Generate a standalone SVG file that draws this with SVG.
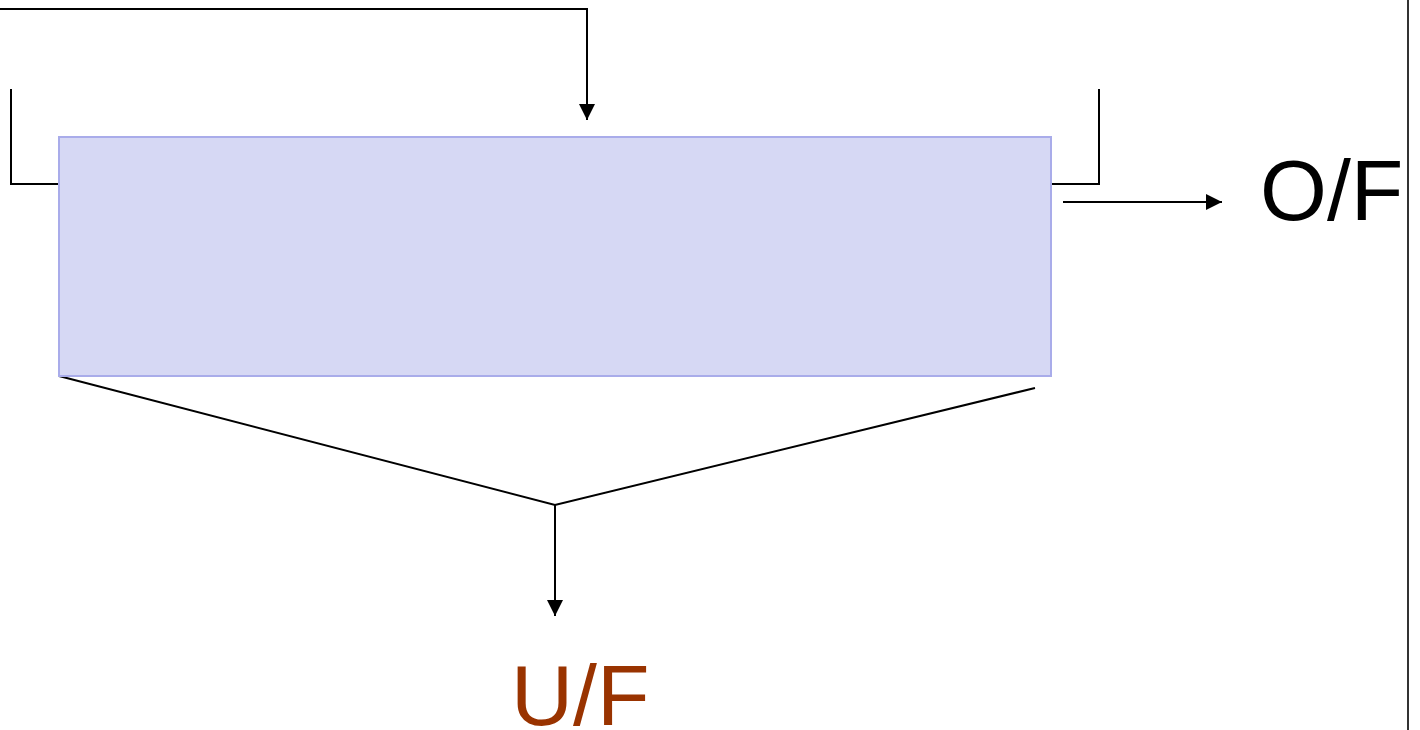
<svg xmlns="http://www.w3.org/2000/svg" width="1420" height="730" viewBox="0 0 1420 730">
  <style>
    .line { fill: none; stroke: #000; stroke-width: 2; }
    .label { font-family: "Liberation Sans", Arial, sans-serif; font-size: 86px; }
  </style>
  <defs>
    <marker id="arrow" viewBox="0 0 16 16" refX="16" refY="8" markerWidth="16" markerHeight="16" markerUnits="userSpaceOnUse" orient="auto">
      <path d="M0,0 L16,8 L0,16 Z" fill="#000"/>
    </marker>
  </defs>
  <rect width="1420" height="730" fill="#fff"/>

  <!-- separator on the right edge -->
  <line x1="1408" y1="0" x2="1408" y2="730" stroke="#333" stroke-width="2"/>

  <g id="connectors">
    <!-- feed entering from the top -->
    <polyline class="line" points="0,9 587,9 587,120" marker-end="url(#arrow)"/>
    <!-- side walls -->
    <polyline class="line" points="11,89 11,184 59,184"/>
    <polyline class="line" points="1051,184 1099,184 1099,89"/>
    <!-- overflow outlet -->
    <line class="line" x1="1063" y1="202" x2="1222" y2="202" marker-end="url(#arrow)"/>
    <!-- underflow cone and outlet -->
    <polyline class="line" points="59,376 555,505 1035,388"/>
    <line class="line" x1="555" y1="505" x2="555" y2="616" marker-end="url(#arrow)"/>
  </g>

  <g id="tank">
    <rect x="59" y="137" width="992" height="239" fill="#d6d8f4" stroke="#a9acea" stroke-width="2"/>
  </g>

  <g id="overflow">
    <text class="label" x="1260" y="220" fill="#000">O/F</text>
  </g>

  <g id="underflow">
    <text class="label" x="511" y="725" fill="#993300">U/F</text>
  </g>
</svg>
